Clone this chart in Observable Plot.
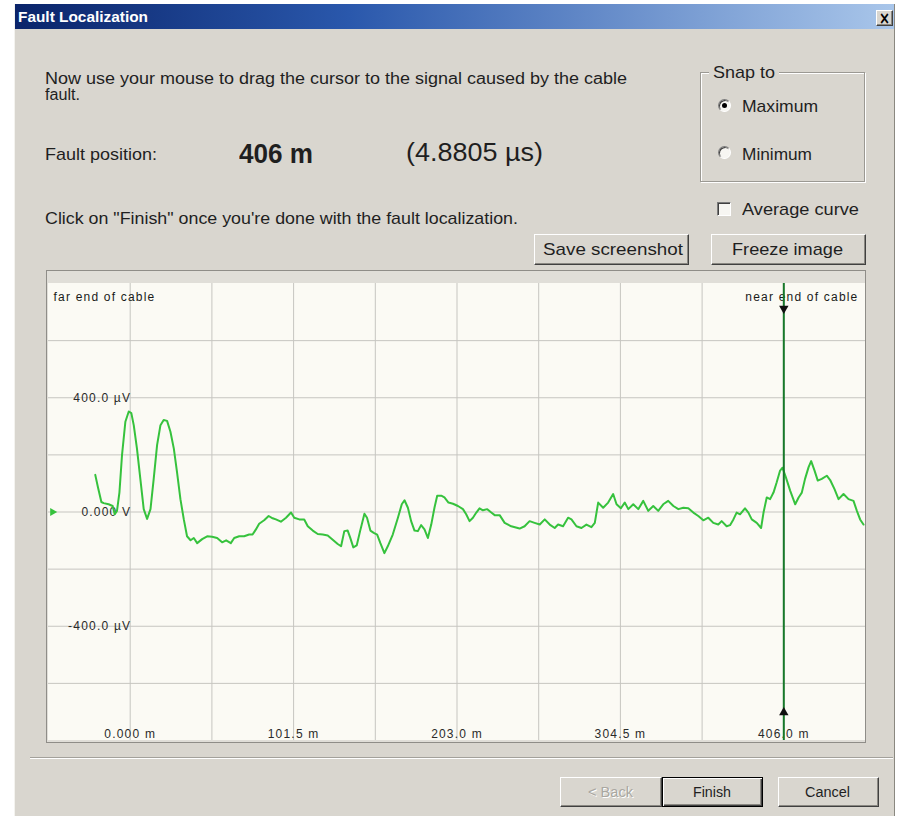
<!DOCTYPE html>
<html>
<head>
<meta charset="utf-8">
<script src="https://cdn.jsdelivr.net/npm/d3@7"></script>
<script src="https://cdn.jsdelivr.net/npm/@observablehq/plot@0.6"></script>
<style>
  body { margin:0; width:901px; height:816px; background:#fff; position:relative; overflow:hidden;
         font-family:"Liberation Sans", Arial, sans-serif; color:#1f1f1f; }
  .t { position:absolute; white-space:nowrap; line-height:1; transform-origin:0 0; }
</style>
</head>
<body>
<script>
// ---------------- data ----------------
const distance_m = [
  -21.7,-20.0,-17.9,-16.5,-13.4,-10.9,-9.6,-8.2,-6.7,-5.1,
  -3.0,-0.9,0.7,2.2,4.2,6.3,8.4,10.5,12.6,14.6,
  16.7,18.8,20.8,22.9,25.0,27.1,29.1,31.2,33.3,35.3,
  37.5,39.5,41.6,44.7,47.8,50.9,54.0,57.1,59.6,62.5,
  64.6,67.7,70.8,73.9,76.0,78.1,80.1,83.2,86.0,88.5,
  90.5,93.6,96.8,99.9,101.9,105.0,108.1,110.3,113.4,116.5,
  119.6,122.7,125.8,128.9,131.0,133.0,135.1,136.6,138.6,140.7,
  142.8,145.5,147.1,149.2,151.3,153.4,155.4,157.9,160.0,163.1,
  166.3,168.7,170.4,172.5,174.5,176.6,178.7,180.7,182.8,184.9,
  187.0,189.0,190.7,193.2,195.2,197.7,200.5,203.6,206.7,208.7,
  210.8,212.9,215.0,217.0,219.1,221.8,224.3,226.4,229.5,232.6,
  236.7,241.9,245.0,248.1,251.2,254.4,257.5,260.6,263.7,265.8,
  268.9,272.0,274.1,277.2,280.3,283.4,286.5,288.6,290.7,293.8,
  296.9,300.0,302.1,304.8,307.2,309.4,312.5,315.6,318.7,321.8,
  324.9,328.0,331.1,334.2,337.4,340.5,343.6,346.7,349.8,352.9,
  356.0,359.1,362.2,365.3,367.4,370.5,372.6,374.7,376.7,378.8,
  381.9,384.0,386.1,389.2,391.9,393.4,395.4,397.5,399.6,401.6,
  403.7,405.2,407.3,410.0,413.1,415.2,417.2,419.2,421.4,423.0,
  425.1,427.1,429.6,432.7,434.8,437.5,440.0,443.1,446.2,449.3,
  451.4,453.4,455.5
];
const amplitude_uV = [
  130,86,35,31,27,21,-8,4,68,198,
  316,352,346,304,222,116,10,-24,10,116,
  234,304,322,319,281,222,139,45,-26,-85,
  -99,-91,-109,-95,-85,-87,-91,-106,-99,-109,
  -91,-85,-85,-79,-79,-61,-41,-29,-14,-22,
  -26,-34,-20,-2,-20,-26,-26,-50,-65,-77,
  -79,-82,-97,-112,-120,-67,-65,-89,-124,-117,
  -67,-6,-20,-65,-73,-79,-109,-144,-120,-79,
  -20,27,41,15,-32,-65,-67,-46,-61,-91,
  -44,15,57,57,51,33,29,21,10,-8,
  -32,-20,-2,13,6,10,-2,-11,-11,-38,
  -50,-58,-50,-32,-38,-44,-26,-44,-56,-44,
  -50,-20,-26,-50,-56,-44,-53,-38,33,15,
  33,63,27,13,33,10,27,10,39,4,
  21,4,27,39,21,10,15,13,-2,-14,
  -29,-20,-38,-44,-32,-50,-46,-26,-2,-8,
  13,-2,-26,-38,-56,-2,51,45,68,104,
  145,155,121,74,27,51,68,116,157,178,
  145,110,116,127,112,80,45,63,45,39,
  4,-26,-44
];
const xTickValues = [0, 101.5, 203.0, 304.5, 406.0];
const xTickLabels = ["0.000 m", "101.5 m", "203.0 m", "304.5 m", "406.0 m"];
const yTickValues = [400, 0, -400];
const yTickLabels = ["400.0 µV", "0.000 V", "-400.0 µV"];
const xGridValues = [0, 50.75, 101.5, 152.25, 203.0, 253.75, 304.5, 355.25, 406.0];
const yGridValues = [600, 400, 200, 0, -200, -400, -600];
const cursorPosition_m = 406;
const endLabels = ["far end of cable", "near end of cable"];

// ---------------- dialog chrome ----------------
const root = document.body;
const FACE = "#d9d6cf";
function box(x, y, w, h, css) {
  const d = document.createElement("div");
  d.style.cssText = `position:absolute;left:${x}px;top:${y}px;width:${w}px;height:${h}px;box-sizing:border-box;` + (css || "");
  root.appendChild(d);
  return d;
}
function txt(str, x, base, w, fs, o = {}) {
  const s = document.createElement("span");
  s.className = "t";
  s.textContent = str;
  s.style.left = x + "px";
  s.style.top = (base - 0.8465 * fs) + "px";
  s.style.fontSize = fs + "px";
  if (o.bold) s.style.fontWeight = "bold";
  if (o.color) s.style.color = o.color;
  if (o.shadow) s.style.textShadow = o.shadow;
  if (o.family) s.style.fontFamily = o.family;
  root.appendChild(s);
  const mw = s.getBoundingClientRect().width;
  if (w && mw) s.style.transform = `scaleX(${w / mw})`;
  return s;
}
function btn(x, y, w, h, isDefault) {
  if (isDefault)
    return box(x, y, w, h, `background:${FACE};border:1px solid #000;box-shadow:inset 1px 1px #fff, inset -1px -1px #404040, inset -2px -2px #8a8882;`);
  return box(x, y, w, h, `background:${FACE};border:1px solid;border-color:#fff #404040 #404040 #fff;box-shadow:inset -1px -1px #8a8882;`);
}

// dialog body and title bar
box(14, 4, 881, 812, `background:${FACE};border-left:1px solid #f4f3ef;border-right:1px solid #8a8880;`);
box(15, 4, 879, 25, "background:linear-gradient(90deg,#0a246a 0%,#2a58ac 38%,#a9c6ea 100%);");
txt("Fault Localization", 18, 22, 130, 14, { bold: true, color: "#fff" });
btn(876, 10, 17, 16);
txt("×", 879, 24, 11, 17, { bold: true, color: "#000", family: "DejaVu Sans" });

// instructions
txt("Now use your mouse to drag the cursor to the signal caused by the cable", 45, 85, 582, 16);
txt("fault.", 45, 101, 35, 16);
txt("Fault position:", 45, 160, 112, 17);
txt("406 m", 239, 164, 74, 27, { bold: true });
txt("(4.8805 µs)", 406, 161, 137, 26);
txt("Click on \"Finish\" once you're done with the fault localization.", 45, 224, 473, 17);

// Snap to group
box(700, 72, 165, 110, "border:1px solid #9b9993;box-shadow:inset 1px 1px #fff, 1px 1px #fff;");
box(709, 64, 70, 16, `background:${FACE};`);
txt("Snap to", 713, 78, 62, 17);
box(718, 99, 13, 13, "border-radius:50%;background:#f7f6f2;border:1px solid;border-color:#7a7a7a #fff #fff #7a7a7a;box-shadow:inset 1px 1px #404040;");
box(722, 103, 5, 5, "border-radius:50%;background:#000;");
txt("Maximum", 742, 112, 76, 17);
box(718, 146, 13, 13, "border-radius:50%;background:#f7f6f2;border:1px solid;border-color:#7a7a7a #fff #fff #7a7a7a;box-shadow:inset 1px 1px #404040;");
txt("Minimum", 742, 160, 70, 17);

// checkbox
box(717, 202, 14, 14, "background:#f7f6f2;border:1px solid;border-color:#7a7a7a #fff #fff #7a7a7a;box-shadow:inset 1px 1px #404040;");
txt("Average curve", 742, 215, 117, 17);

// buttons
btn(534, 234, 155, 31);
txt("Save screenshot", 543, 255, 140, 17);
btn(711, 234, 155, 31);
txt("Freeze image", 732, 255, 111, 17);

// chart frame
box(46, 270, 820, 473, "background:#e0ded8;border:1px solid #8f8d88;");

// separator & bottom buttons
box(30, 757, 863, 2, "border-top:1px solid #a3a19b;border-bottom:1px solid #fff;");
btn(560, 777, 102, 30);
txt("< Back", 588, 797, 45, 14, { color: "#a9a7a1", shadow: "1px 1px #fff" });
btn(662, 777, 101, 30, true);
txt("Finish", 693, 797, 38, 14);
btn(778, 777, 101, 30);
txt("Cancel", 805, 797, 45, 14);

// ---------------- chart ----------------
const signal = distance_m.map((m, i) => ({ m, v: amplitude_uV[i] }));
const GREEN = "#36c23d";
const chart = Plot.plot({
  width: 817,
  height: 457,
  margin: 0,
  x: { domain: [-50.75, 456.75], axis: null },
  y: { domain: [-800, 800], axis: null },
  style: { background: "#fbfaf4", fontFamily: "Liberation Sans, Arial, sans-serif", fontSize: "12px",
           letterSpacing: "1.2px", color: "#222", overflow: "visible" },
  marks: [
    Plot.ruleX(xGridValues, { x: d => d, stroke: "#c6c5c0", strokeWidth: 1, strokeOpacity: 1 }),
    Plot.ruleY(yGridValues, { y: d => d, stroke: "#c6c5c0", strokeWidth: 1, strokeOpacity: 1 }),
    Plot.text(yTickValues, { x: () => 0, y: d => d, text: (d, i) => yTickLabels[i], textAnchor: "end", dx: 1, fill: "#2a2a2a" }),
    Plot.text(xTickValues, { x: d => d, text: (d, i) => xTickLabels[i], frameAnchor: "bottom", dy: -3, fill: "#2a2a2a" }),
    Plot.text([endLabels[0]], { text: d => d, frameAnchor: "top-left", dx: 5, dy: 9, textAnchor: "start", fill: "#1a1a1a" }),
    Plot.text([endLabels[1]], { text: d => d, frameAnchor: "top-right", dx: -7, dy: 9, textAnchor: "end", fill: "#1a1a1a" }),
    Plot.dot([0], { y: d => d, frameAnchor: "left", dx: 4, symbol: "triangle", rotate: 90, r: 3, fill: GREEN, stroke: "none" }),
    Plot.line(signal, { x: "m", y: "v", stroke: GREEN, strokeWidth: 2, strokeLinejoin: "round" }),
    Plot.ruleX([cursorPosition_m], { x: d => d, stroke: "#17782a", strokeWidth: 2 }),
    Plot.dot([cursorPosition_m], { x: d => d, frameAnchor: "top", dy: 25, symbol: "triangle", rotate: 180, r: 3.5, fill: "#111", stroke: "none" }),
    Plot.dot([cursorPosition_m], { x: d => d, frameAnchor: "bottom", dy: -28, symbol: "triangle", r: 3.5, fill: "#111", stroke: "none" })
  ]
});
chart.style.position = "absolute";
chart.style.left = "48px";
chart.style.top = "283px";
root.appendChild(chart);
</script>
</body>
</html>
